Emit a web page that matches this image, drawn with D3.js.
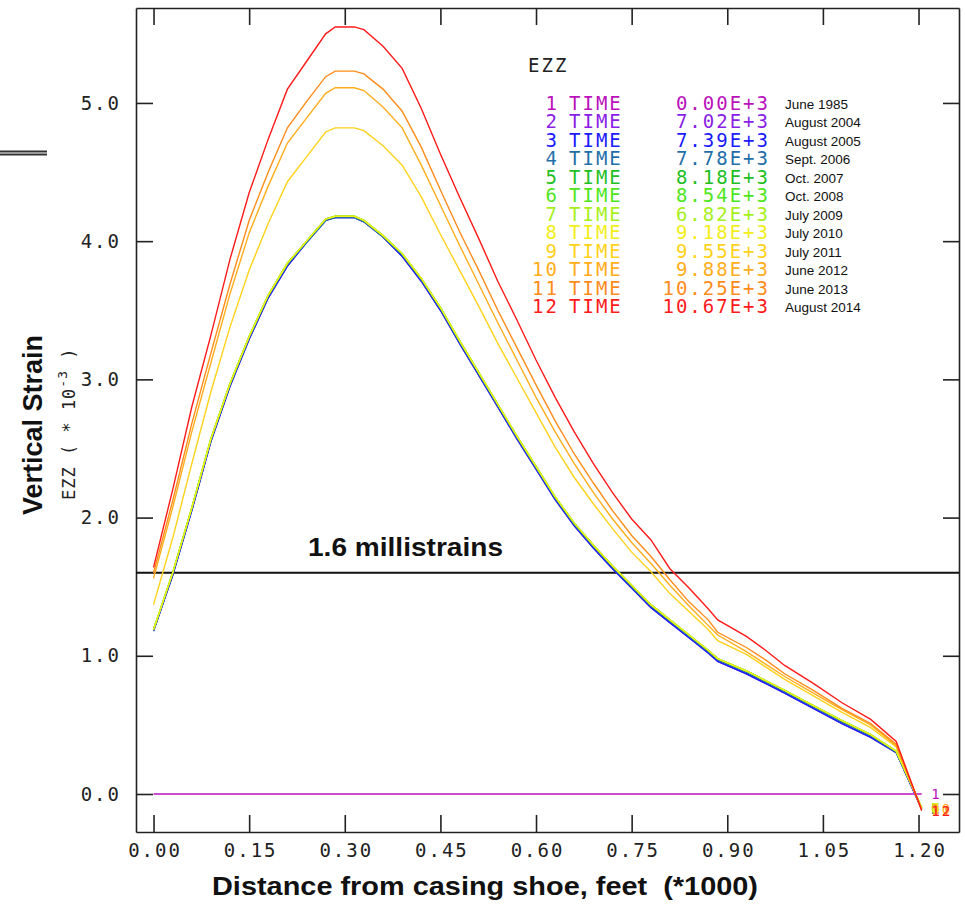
<!DOCTYPE html>
<html>
<head>
<meta charset="utf-8">
<script src="https://cdn.jsdelivr.net/npm/d3@7"></script>
<style>
  body { margin: 0; background: #fff; }
  svg { display: block; }
</style>
</head>
<body>
<div class="canvas"></div>
<script>
// Distance from casing shoe (*1000 ft)
const distance = [0, 0.03, 0.06, 0.09, 0.12, 0.15, 0.18, 0.21, 0.24, 0.27, 0.285, 0.315, 0.33, 0.36, 0.39, 0.42, 0.45, 0.48, 0.51, 0.54,
  0.57, 0.60, 0.63, 0.66, 0.69, 0.72, 0.75, 0.78, 0.81, 0.84, 0.87, 0.885, 0.93, 0.96, 0.99, 1.035, 1.08, 1.125, 1.165, 1.205]

// Vertical strain EZZ (*10^-3), one array per time step
const ezz1 = [0, 0, 0, 0, 0, 0, 0, 0, 0, 0, 0, 0, 0, 0, 0, 0, 0, 0, 0, 0,
  0, 0, 0, 0, 0, 0, 0, 0, 0, 0, 0, 0, 0, 0, 0, 0, 0, 0, 0, 0]
const ezz2 = [1.18, 1.58, 2.05, 2.55, 2.95, 3.29, 3.59, 3.82, 3.99, 4.15, 4.17, 4.17, 4.14, 4.03, 3.89, 3.71, 3.50, 3.26, 3.03, 2.80,
  2.57, 2.35, 2.13, 1.94, 1.78, 1.63, 1.49, 1.35, 1.24, 1.13, 1.02, 0.96, 0.87, 0.80, 0.73, 0.62, 0.51, 0.41, 0.30, -0.11]
const ezz3 = ezz2
const ezz4 = [1.18, 1.59, 2.06, 2.56, 2.96, 3.30, 3.60, 3.83, 3.99, 4.15, 4.17, 4.17, 4.14, 4.03, 3.90, 3.72, 3.51, 3.27, 3.04, 2.81,
  2.58, 2.36, 2.14, 1.95, 1.79, 1.64, 1.50, 1.36, 1.25, 1.14, 1.03, 0.97, 0.88, 0.81, 0.74, 0.63, 0.52, 0.42, 0.30, -0.10]
const ezz5 = [1.19, 1.60, 2.07, 2.57, 2.97, 3.31, 3.61, 3.84, 4.00, 4.16, 4.18, 4.18, 4.15, 4.04, 3.91, 3.73, 3.52, 3.28, 3.05, 2.82,
  2.59, 2.37, 2.15, 1.96, 1.80, 1.65, 1.51, 1.37, 1.26, 1.15, 1.04, 0.98, 0.89, 0.82, 0.75, 0.64, 0.53, 0.43, 0.31, -0.10]
const ezz6 = ezz5
const ezz7 = ezz5
const ezz8 = ezz5
const ezz9 = [1.37, 1.85, 2.39, 2.91, 3.38, 3.79, 4.13, 4.43, 4.61, 4.79, 4.82, 4.82, 4.80, 4.69, 4.55, 4.32, 4.05, 3.79, 3.53, 3.26,
  3.01, 2.76, 2.51, 2.29, 2.10, 1.92, 1.75, 1.61, 1.45, 1.32, 1.19, 1.11, 1.01, 0.92, 0.83, 0.71, 0.59, 0.48, 0.34, -0.11]
const ezz10 = [1.56, 2.07, 2.62, 3.12, 3.62, 4.06, 4.40, 4.71, 4.89, 5.07, 5.11, 5.11, 5.09, 4.97, 4.82, 4.55, 4.26, 3.97, 3.69, 3.41,
  3.14, 2.87, 2.62, 2.39, 2.18, 1.99, 1.82, 1.67, 1.51, 1.36, 1.22, 1.15, 1.03, 0.94, 0.85, 0.73, 0.61, 0.50, 0.35, -0.11]
const ezz11 = [1.60, 2.12, 2.68, 3.19, 3.69, 4.15, 4.50, 4.82, 5.01, 5.19, 5.23, 5.23, 5.21, 5.10, 4.94, 4.68, 4.37, 4.07, 3.79, 3.50,
  3.23, 2.96, 2.70, 2.46, 2.25, 2.05, 1.87, 1.72, 1.55, 1.39, 1.26, 1.17, 1.06, 0.97, 0.87, 0.75, 0.62, 0.51, 0.36, -0.12]
const ezz12 = [1.64, 2.20, 2.80, 3.32, 3.87, 4.35, 4.74, 5.10, 5.30, 5.50, 5.55, 5.55, 5.53, 5.41, 5.25, 4.96, 4.63, 4.32, 4.02, 3.71,
  3.43, 3.14, 2.87, 2.62, 2.39, 2.18, 1.99, 1.84, 1.63, 1.49, 1.34, 1.26, 1.14, 1.04, 0.93, 0.80, 0.66, 0.54, 0.38, -0.12]

const stepNumbers = ['1', '2', '3', '4', '5', '6', '7', '8', '9', '10', '11', '12']
const stepTimes = ['0.00E+3', '7.02E+3', '7.39E+3', '7.78E+3', '8.18E+3', '8.54E+3', '6.82E+3', '9.18E+3', '9.55E+3', '9.88E+3', '10.25E+3', '10.67E+3']
const stepDates = ['June 1985', 'August 2004', 'August 2005', 'Sept. 2006', 'Oct. 2007', 'Oct. 2008', 'July 2009', 'July 2010', 'July 2011', 'June 2012', 'June 2013', 'August 2014']
const stepColors = ['#bb11bb', '#8a1ee6', '#1a1aff', '#1f6fa8', '#1fbf1f', '#4ee61a', '#a6f01a', '#f2ee1a', '#ffd21a', '#ffad1a', '#ff8c1a', '#ff1a1a']
const series = [ezz1, ezz2, ezz3, ezz4, ezz5, ezz6, ezz7, ezz8, ezz9, ezz10, ezz11, ezz12]

const xTicks = [0, 0.15, 0.30, 0.45, 0.60, 0.75, 0.90, 1.05, 1.20]
const yTicks = [0, 1, 2, 3, 4, 5]
const threshold = 1.6

const mono = '"DejaVu Sans Mono", monospace'
const sans = 'Arial, "Liberation Sans", sans-serif'

const svg = d3.select('.canvas')
  .append('svg')
  .attr('width', 965)
  .attr('height', 904)

// Plot box
const box = { left: 136, right: 959, top: 8, bottom: 832 }

const x = d3.scaleLinear()
  .domain([-0.0275, 1.2635])
  .range([box.left, box.right])

const y = d3.scaleLinear()
  .domain([-0.275, 5.687])
  .range([box.bottom, box.top])

// Axes on all four sides, ticks pointing inward
const styleAxis = g => {
  g.selectAll('path, line').attr('stroke', '#222').attr('stroke-width', 1.6)
  g.selectAll('text')
    .attr('fill', '#222')
    .style('font-family', mono)
    .style('font-size', '19px')
    .style('letter-spacing', '2px')
}

svg.append('g')
  .attr('transform', `translate(0, ${box.bottom})`)
  .call(d3.axisBottom(x).tickValues(xTicks).tickSize(-17).tickSizeOuter(0).tickPadding(12).tickFormat(d3.format('.2f')))
  .call(styleAxis)
  .call(g => g.selectAll('text').attr('dx', '1px'))

svg.append('g')
  .attr('transform', `translate(${box.left}, 0)`)
  .call(d3.axisLeft(y).tickValues(yTicks).tickSize(-17).tickSizeOuter(0).tickPadding(15).tickFormat(d3.format('.1f')))
  .call(styleAxis)

svg.append('g')
  .attr('transform', `translate(0, ${box.top})`)
  .call(d3.axisTop(x).tickValues(xTicks).tickSize(-17).tickSizeOuter(0).tickFormat(''))
  .call(styleAxis)

svg.append('g')
  .attr('transform', `translate(${box.right}, 0)`)
  .call(d3.axisRight(y).tickValues(yTicks).tickSize(-16).tickSizeOuter(0).tickFormat(''))
  .call(styleAxis)

// 1.6 millistrain reference line
svg.append('line')
  .attr('x1', box.left).attr('x2', box.right)
  .attr('y1', y(threshold)).attr('y2', y(threshold))
  .attr('stroke', '#111')
  .attr('stroke-width', 2)

svg.append('text')
  .attr('x', 308).attr('y', 556)
  .attr('textLength', 195)
  .attr('lengthAdjust', 'spacingAndGlyphs')
  .style('font-family', sans).style('font-weight', 'bold').style('font-size', '26px')
  .attr('fill', '#111')
  .text('1.6 millistrains')

// Curves
const line = d3.line()
  .x((d, i) => x(distance[i]))
  .y(d => y(d))

svg.append('g')
  .selectAll('path')
  .data(series)
  .enter()
  .append('path')
  .attr('d', d => line(d))
  .attr('fill', 'none')
  .attr('stroke', (d, i) => stepColors[i])
  .attr('stroke-width', 1.4)

// curve end labels piled up past 1.20
svg.append('g')
  .selectAll('text')
  .data(series)
  .enter()
  .append('text')
  .attr('x', x(1.22))
  .attr('y', d => y(d[d.length - 1]) + 5)
  .attr('fill', (d, i) => stepColors[i])
  .style('font-family', mono).style('font-size', '14px').style('letter-spacing', '2px')
  .text((d, i) => stepNumbers[i])

// Legend
svg.append('text')
  .attr('x', 528).attr('y', 72)
  .attr('fill', '#222')
  .style('font-family', mono).style('font-size', '19px').style('letter-spacing', '2px')
  .text('EZZ')

const rows = svg.append('g')
  .selectAll('g')
  .data(stepNumbers)
  .enter()
  .append('g')
  .attr('transform', (d, i) => `translate(0, ${109.5 + i * 18.5})`)

const monoRow = sel => sel
  .style('font-family', mono).style('font-size', '19px').style('letter-spacing', '2px')
  .attr('fill', (d, i) => stepColors[i])

rows.append('text').attr('x', 559).attr('text-anchor', 'end').call(monoRow).text(d => d)
rows.append('text').attr('x', 569).call(monoRow).text('TIME')
rows.append('text').attr('x', 770).attr('text-anchor', 'end').call(monoRow).text((d, i) => stepTimes[i])
rows.append('text')
  .attr('x', 785).attr('y', -1)
  .attr('fill', '#111')
  .style('font-family', sans).style('font-size', '13.5px')
  .text((d, i) => stepDates[i])

// Axis titles
svg.append('text')
  .attr('x', 212).attr('y', 895)
  .attr('textLength', 546)
  .attr('lengthAdjust', 'spacingAndGlyphs')
  .attr('fill', '#111')
  .style('font-family', sans).style('font-weight', 'bold').style('font-size', '26px')
  .style('white-space', 'pre')
  .text('Distance from casing shoe, feet  (*1000)')

svg.append('text')
  .attr('transform', 'translate(42, 425) rotate(-90)')
  .attr('text-anchor', 'middle')
  .attr('fill', '#111')
  .style('font-family', sans).style('font-weight', 'bold').style('font-size', '27px')
  .text('Vertical Strain')

const sub = svg.append('text')
  .attr('transform', 'translate(75, 500) rotate(-90)')
  .attr('fill', '#222')
  .style('font-family', mono).style('font-size', '17px').style('letter-spacing', '1px')
  .style('white-space', 'pre')
sub.append('tspan').text('EZZ ( * 10')
sub.append('tspan').attr('dy', -8).style('font-size', '13px').text('-3')
sub.append('tspan').attr('dy', 8).text(' )')

// stray double rule at the left edge
svg.append('g')
  .selectAll('line')
  .data([151.5, 154.5])
  .enter()
  .append('line')
  .attr('x1', 0).attr('x2', 47)
  .attr('y1', d => d).attr('y2', d => d)
  .attr('stroke', '#333')
  .attr('stroke-width', 2)
</script>
</body>
</html>
